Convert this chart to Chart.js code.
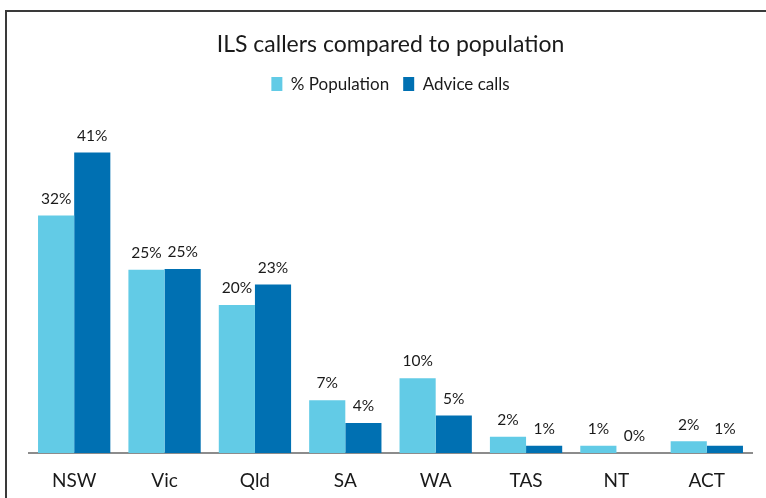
<!DOCTYPE html>
<html>
<head>
<meta charset="utf-8">
<script src="https://cdn.jsdelivr.net/npm/chart.js@4"></script>
<style>
  html, body { margin: 0; padding: 0; background: #fff; overflow: hidden; }
  #frame { position: absolute; left: 5px; top: 10px; width: 800px; height: 520px; border: 2px solid #3a3a3a; }
  #wrap { position: absolute; left: 0; top: 0; width: 766px; height: 498px; }
</style>
</head>
<body>
<div id="frame"></div>
<div id="wrap"><canvas id="chart" width="766" height="498"></canvas></div>
<script>
// data
const states = ['NSW', 'Vic', 'Qld', 'SA', 'WA', 'TAS', 'NT', 'ACT'];
const populationPct = [32.4, 25.0, 20.2, 7.2, 10.2, 2.2, 1.0, 1.6];
const adviceCallsPct = [41.0, 25.1, 23.0, 4.1, 5.1, 1.0, 0.0, 1.0];

const FONT = 'Lato, "Open Sans", sans-serif';

// draws the % label above each bar
const barLabels = {
  id: 'barLabels',
  afterDatasetsDraw(chart) {
    const ctx = chart.ctx;
    ctx.save();
    ctx.font = '15.5px ' + FONT;
    ctx.fillStyle = '#1a1a1a';
    ctx.textAlign = 'center';
    ctx.textBaseline = 'bottom';
    chart.data.datasets.forEach((ds, i) => {
      chart.getDatasetMeta(i).data.forEach((bar, j) => {
        ctx.fillText(Math.round(ds.data[j]) + '%', bar.x, bar.y - 9);
      });
    });
    ctx.restore();
  }
};

new Chart(document.getElementById('chart'), {
  type: 'bar',
  data: {
    labels: states,
    datasets: [
      { label: '% Population', data: populationPct, backgroundColor: '#62CBE6' },
      { label: 'Advice calls', data: adviceCallsPct, backgroundColor: '#0070B2' }
    ]
  },
  options: {
    responsive: false,
    animation: false,
    layout: { padding: { left: 29, right: 14, top: 31, bottom: 0 } },
    datasets: { bar: { categoryPercentage: 0.8, barPercentage: 1.0 } },
    plugins: {
      title: {
        display: true,
        text: 'ILS callers compared to population',
        color: '#1a1a1a',
        font: { family: FONT, size: 23, weight: 'normal' },
        padding: { top: 0, bottom: 3 }
      },
      legend: {
        position: 'top',
        labels: {
          color: '#1a1a1a',
          font: { family: FONT, size: 17 },
          boxWidth: 11,
          boxHeight: 14,
          padding: 14
        }
      },
      tooltip: { enabled: false }
    },
    scales: {
      x: {
        grid: { display: false },
        border: { display: true, color: '#8c8c8c', width: 2 },
        ticks: { color: '#1a1a1a', font: { family: FONT, size: 19 }, padding: 8 },
        afterFit(scale) { scale.height = 45; }
      },
      y: {
        display: false,
        min: 0,
        max: 47.8
      }
    }
  },
  plugins: [barLabels]
});
</script>
</body>
</html>
